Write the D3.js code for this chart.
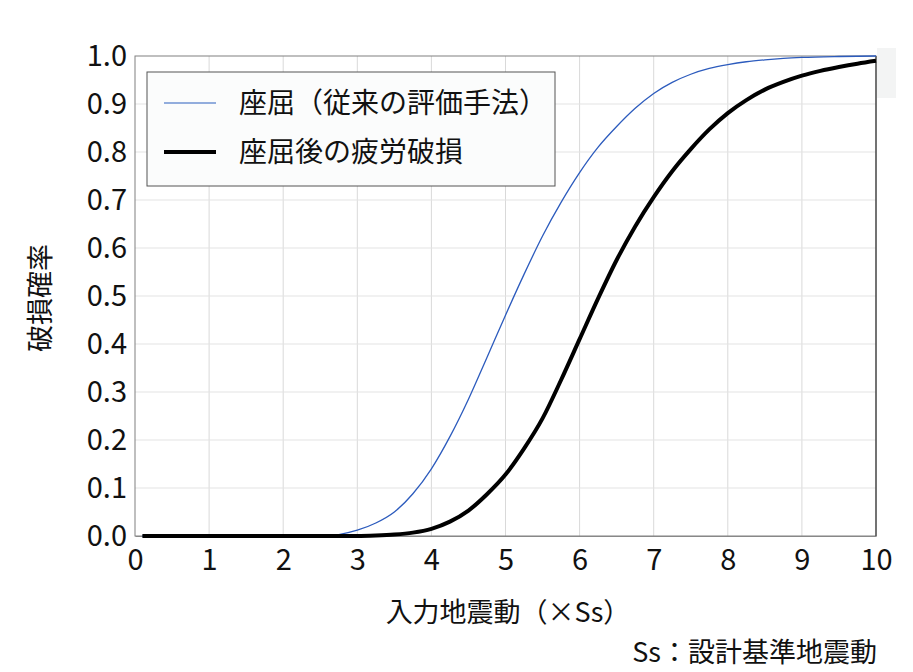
<!DOCTYPE html>
<html>
<head>
<meta charset="utf-8">
<script src="https://cdn.jsdelivr.net/npm/d3@7"></script>
<style>
  body { margin: 0; background: #fff; }
  text { font-family: "Noto Sans CJK JP", "Noto Sans", sans-serif; fill: #111; }
</style>
</head>
<body>
<svg id="chart" width="913" height="672"></svg>
<script>
// values
var seriesNames = ["座屈（従来の評価手法）", "座屈後の疲労破損"];
var xBuckling = [0.1, 1, 2, 2.5, 2.75, 3, 3.25, 3.5, 3.75, 4, 4.25, 4.5, 4.75, 5, 5.25, 5.5, 5.75, 6, 6.25, 6.5, 6.75, 7, 7.25, 7.5, 7.75, 8, 8.25, 8.5, 8.75, 9, 9.5, 10];
var yBuckling = [0, 0, 0, 0, 0.003, 0.012, 0.027, 0.05, 0.088, 0.14, 0.207, 0.285, 0.372, 0.46, 0.545, 0.625, 0.695, 0.757, 0.81, 0.853, 0.891, 0.922, 0.945, 0.962, 0.974, 0.982, 0.988, 0.992, 0.995, 0.997, 0.999, 1.0];
var xFatigue = [0.1, 1, 2, 3, 3.25, 3.5, 3.75, 4, 4.25, 4.5, 4.75, 5, 5.25, 5.5, 5.75, 6, 6.25, 6.5, 6.75, 7, 7.25, 7.5, 7.75, 8, 8.25, 8.5, 8.75, 9, 9.25, 9.5, 9.75, 10];
var yFatigue = [0, 0, 0, 0, 0.001, 0.003, 0.007, 0.015, 0.03, 0.053, 0.087, 0.128, 0.182, 0.245, 0.325, 0.41, 0.495, 0.575, 0.645, 0.706, 0.76, 0.806, 0.847, 0.881, 0.908, 0.93, 0.946, 0.959, 0.969, 0.977, 0.984, 0.99];
var xTicks = [0, 1, 2, 3, 4, 5, 6, 7, 8, 9, 10];
var yTicks = [0, 0.1, 0.2, 0.3, 0.4, 0.5, 0.6, 0.7, 0.8, 0.9, 1.0];

var svg = d3.select("#chart");
var plotL = 135, plotR = 876, plotT = 56, plotB = 536;

var x = d3.scaleLinear().domain([0, 10]).range([plotL, plotR]);
var y = d3.scaleLinear().domain([0, 1]).range([plotB, plotT]);

// odd light patch at right edge of plot
svg.append("rect").attr("x", 877).attr("y", 48).attr("width", 19).attr("height", 50).attr("fill", "#f3f4f4");

// grid
svg.append("g").selectAll("line").data(xTicks.slice(1, -1)).enter().append("line")
    .attr("x1", function(d) { return x(d); }).attr("x2", function(d) { return x(d); })
    .attr("y1", plotT).attr("y2", plotB)
    .attr("stroke", "#d9d9d9").attr("stroke-width", 1);
svg.append("g").selectAll("line").data(yTicks.slice(1, -1)).enter().append("line")
    .attr("x1", plotL).attr("x2", plotR)
    .attr("y1", function(d) { return y(d); }).attr("y2", function(d) { return y(d); })
    .attr("stroke", "#e3e3e3").attr("stroke-width", 1);

// plot border
svg.append("rect").attr("x", plotL).attr("y", plotT).attr("width", plotR - plotL).attr("height", plotB - plotT)
    .attr("fill", "none").attr("stroke", "#808080").attr("stroke-width", 1);
svg.append("line").attr("x1", plotR).attr("x2", plotR).attr("y1", plotT).attr("y2", plotB)
    .attr("stroke", "#404040").attr("stroke-width", 1.2);

// axes
var xAxis = d3.axisBottom(x).tickValues(xTicks).tickSize(0).tickPadding(12).tickFormat(d3.format("d"));
var yAxis = d3.axisLeft(y).tickValues(yTicks).tickSize(0).tickPadding(8).tickFormat(d3.format(".1f"));

var gx = svg.append("g").attr("transform", "translate(0," + plotB + ")").call(xAxis);
gx.select(".domain").attr("stroke", "#888");
gx.selectAll("text").attr("font-size", 29).attr("fill", "#111").attr("dy", "0.75em")
    .style("font-family", "'Noto Sans CJK JP', sans-serif");

var gy = svg.append("g").attr("transform", "translate(" + plotL + ",0)").call(yAxis);
gy.select(".domain").remove();
gy.selectAll("text").attr("font-size", 29).attr("fill", "#111")
    .style("font-family", "'Noto Sans CJK JP', sans-serif");

// lines
function makeLine(xs, ys) {
    return d3.line()
        .x(function(d, i) { return x(xs[i]); })
        .y(function(d, i) { return y(ys[i]); })
        .curve(d3.curveMonotoneX)(ys);
}
svg.append("path").attr("d", makeLine(xBuckling, yBuckling))
    .attr("fill", "none").attr("stroke", "#2c5bbd").attr("stroke-width", 1.3);
svg.append("path").attr("d", makeLine(xFatigue, yFatigue))
    .attr("fill", "none").attr("stroke", "#000").attr("stroke-width", 4);

// legend
var lg = svg.append("g");
lg.append("rect").attr("x", 147).attr("y", 72).attr("width", 408).attr("height", 114)
    .attr("fill", "#fbfcfc").attr("stroke", "#555").attr("stroke-width", 1);
var legendColors = ["#6f93d3", "#000"];
var legendWidths = [1.3, 4];
seriesNames.forEach(function(name, i) {
    var ly = 103 + i * 49;
    lg.append("line").attr("x1", 164).attr("x2", 216).attr("y1", ly).attr("y2", ly)
        .attr("stroke", legendColors[i]).attr("stroke-width", legendWidths[i]);
    lg.append("text").attr("x", 239).attr("y", ly).attr("dy", "0.36em")
        .attr("font-size", 28).text(name);
});

// axis titles
svg.append("text").attr("x", 508).attr("y", 612).attr("text-anchor", "middle")
    .attr("dy", "0.36em").attr("font-size", 27).text("入力地震動（×Ss）");
svg.append("text").attr("x", 877).attr("y", 652).attr("text-anchor", "end")
    .attr("dy", "0.36em").attr("font-size", 27).text("Ss：設計基準地震動");
svg.append("text").attr("transform", "translate(40,298) rotate(-90)").attr("text-anchor", "middle")
    .attr("dy", "0.36em").attr("font-size", 27).text("破損確率");
</script>
</body>
</html>
